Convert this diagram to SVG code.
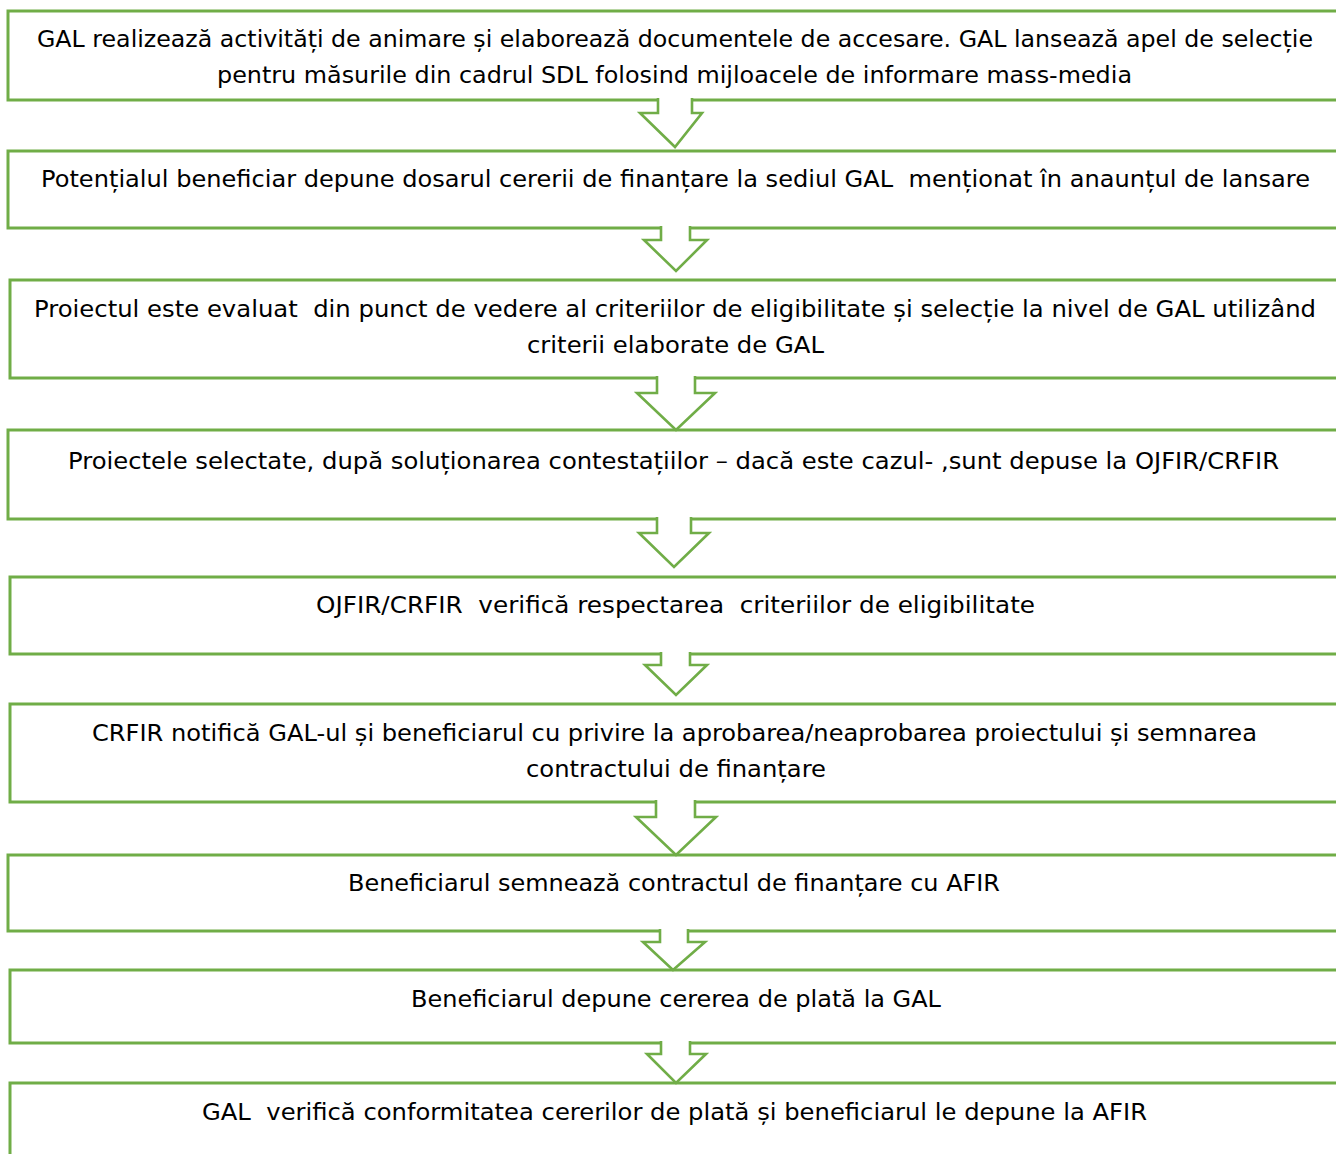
<svg xmlns="http://www.w3.org/2000/svg" width="1336" height="1154" viewBox="0 0 1336 1154">
<style>
.box{fill:#ffffff;stroke:#70AD47;stroke-width:3}
.arr{fill:#ffffff;stroke:#70AD47;stroke-width:2.6;stroke-linejoin:miter}
.t{font-family:"DejaVu Sans","Verdana",sans-serif;font-size:23px;fill:#000000;white-space:pre}
</style>
<rect width="1336" height="1154" fill="#ffffff"/>
<g id="node1"><rect class="box" x="8" y="11" width="1340" height="89"/>
<text class="t" x="37" y="47" textLength="1276" lengthAdjust="spacingAndGlyphs">GAL realizează activități de animare și elaborează documentele de accesare. GAL lansează apel de selecție</text>
<text class="t" x="217" y="83" textLength="915" lengthAdjust="spacingAndGlyphs">pentru măsurile din cadrul SDL folosind mijloacele de informare mass-media</text></g>
<g id="node2"><rect class="box" x="8" y="151" width="1340" height="77"/>
<text class="t" x="41" y="187" textLength="1269" lengthAdjust="spacingAndGlyphs">Potențialul beneficiar depune dosarul cererii de finanțare la sediul GAL  menționat în anaunțul de lansare</text></g>
<g id="node3"><rect class="box" x="10" y="280" width="1340" height="98"/>
<text class="t" x="34" y="317" textLength="1282" lengthAdjust="spacingAndGlyphs">Proiectul este evaluat  din punct de vedere al criteriilor de eligibilitate și selecție la nivel de GAL utilizând</text>
<text class="t" x="527" y="353" textLength="297" lengthAdjust="spacingAndGlyphs">criterii elaborate de GAL</text></g>
<g id="node4"><rect class="box" x="8" y="430" width="1340" height="89"/>
<text class="t" x="68" y="469" textLength="1211" lengthAdjust="spacingAndGlyphs">Proiectele selectate, după soluționarea contestațiilor – dacă este cazul- ,sunt depuse la OJFIR/CRFIR</text></g>
<g id="node5"><rect class="box" x="10" y="577" width="1340" height="77"/>
<text class="t" x="316" y="613" textLength="719" lengthAdjust="spacingAndGlyphs">OJFIR/CRFIR  verifică respectarea  criteriilor de eligibilitate</text></g>
<g id="node6"><rect class="box" x="10" y="704" width="1340" height="98"/>
<text class="t" x="92" y="741" textLength="1165" lengthAdjust="spacingAndGlyphs">CRFIR notifică GAL-ul și beneficiarul cu privire la aprobarea/neaprobarea proiectului și semnarea</text>
<text class="t" x="526" y="777" textLength="300" lengthAdjust="spacingAndGlyphs">contractului de finanțare</text></g>
<g id="node7"><rect class="box" x="8" y="855" width="1340" height="76"/>
<text class="t" x="348" y="891" textLength="652" lengthAdjust="spacingAndGlyphs">Beneficiarul semnează contractul de finanțare cu AFIR</text></g>
<g id="node8"><rect class="box" x="10" y="970" width="1340" height="73"/>
<text class="t" x="411" y="1007" textLength="530" lengthAdjust="spacingAndGlyphs">Beneficiarul depune cererea de plată la GAL</text></g>
<g id="node9"><rect class="box" x="10" y="1083" width="1340" height="100"/>
<text class="t" x="202" y="1120" textLength="945" lengthAdjust="spacingAndGlyphs">GAL  verifică conformitatea cererilor de plată și beneficiarul le depune la AFIR</text></g>
<g id="connectors">
<path class="arr" d="M658,98 L658,113 L640,113 L675,147 L702,113 L692,113 L692,98"/>
<path class="arr" d="M661,226 L661,240 L644,240 L676,271 L707,240 L690,240 L690,226"/>
<path class="arr" d="M657,376 L657,393 L637,393 L676,430 L715,393 L695,393 L695,376"/>
<path class="arr" d="M657,517 L657,533 L639,533 L674,567 L709,533 L691,533 L691,517"/>
<path class="arr" d="M661,652 L661,665 L645,665 L676,695 L707,665 L690,665 L690,652"/>
<path class="arr" d="M656,800 L656,817 L636,817 L676,855 L716,817 L695,817 L695,800"/>
<path class="arr" d="M660,929 L660,942 L643,942 L673,970 L705,942 L688,942 L688,929"/>
<path class="arr" d="M661,1041 L661,1054 L647,1054 L676,1083 L706,1054 L690,1054 L690,1041"/>
</g>
</svg>
